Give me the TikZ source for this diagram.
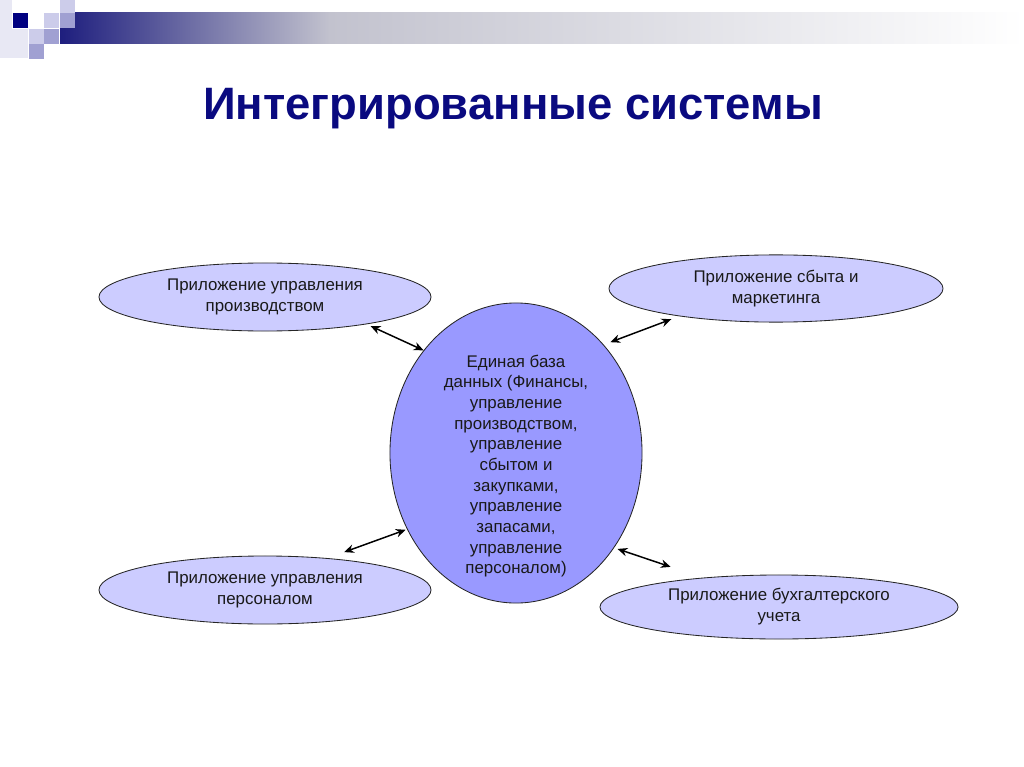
\documentclass[tikz,border=0pt]{standalone}
\usepackage{fontspec}
\setmainfont{Liberation Sans}
\usetikzlibrary{shapes.geometric,arrows.meta}

\definecolor{titlenavy}{HTML}{0A0A80}
\definecolor{barnavy}{HTML}{1E1E7E}
\definecolor{barmid}{HTML}{C2C2CE}
\definecolor{appfill}{HTML}{CCCCFF}
\definecolor{basefill}{HTML}{9999FF}
\definecolor{sqdark}{HTML}{000080}
\definecolor{sqlight}{HTML}{CCCCEA}
\definecolor{sqmid}{HTML}{A0A0D2}
\definecolor{sqfaint}{HTML}{E8E8F4}

\tikzset{
  app/.style={ellipse, draw=black!85, fill=appfill, line width=0.6pt,
    inner sep=0pt, align=center, text=black!90,
    font=\fontsize{12}{15}\selectfont},
  base/.style={ellipse, draw=black!85, fill=basefill, line width=0.6pt,
    minimum width=6.3cm, minimum height=7.5cm, inner sep=0pt},
  basetext/.style={align=center, text=black!90, font=\fontsize{12}{14.7}\selectfont},
  link/.style={{Stealth[length=7pt,width=6pt]}-{Stealth[length=7pt,width=6pt]}, line width=1.05pt},
}

\begin{document}
\begin{tikzpicture}[x=0.025cm, y=-0.025cm]
			%%%%% START %%%%%
			\useasboundingbox (0, 0) rectangle (1024, 767);
			
			% corner squares and bar
			\fill[sqfaint] (0, 0) rectangle (12, 58);
			\fill[sqfaint] (12, 29) rectangle (28, 58);
			\shade[left color=barnavy, right color=barmid] (60, 13) rectangle (330, 44);
			\shade[left color=barmid, right color=white] (329, 13) rectangle (1024, 44);
			\fill[sqdark] (13, 13) rectangle (28, 28);
			\fill[sqlight] (44, 13) rectangle (59, 28);
			\fill[sqlight] (60, 0) rectangle (75, 13);
			\fill[sqmid] (60, 13) rectangle (75, 28);
			\fill[sqlight] (29, 29) rectangle (44, 44);
			\fill[sqmid] (44, 29) rectangle (59, 44);
			\fill[sqmid] (29, 44) rectangle (44, 59);
			
			\node[anchor=base, text=titlenavy, font=\bfseries\fontsize{32.3}{40}\selectfont] (title) at (513, 120) {Интегрированные системы};
			
			% center
			\node[base] (base) at (516, 453) {};
			\node[basetext] (basetxt) at (516, 466) {Единая база\\данных (Финансы,\\управление\\производством,\\управление\\сбытом и\\закупками,\\управление\\запасами,\\управление\\персоналом)};
			
			% applications
			\node[app, minimum width=8.3cm, minimum height=1.7cm] (prod) at (265, 297) {Приложение управления\\производством};
			\node[app, minimum width=8.35cm, minimum height=1.68cm] (sales) at (776, 288.5) {Приложение сбыта и\\маркетинга};
			\node[app, minimum width=8.3cm, minimum height=1.7cm] (staff) at (265, 590) {Приложение управления\\персоналом};
			\node[app, minimum width=8.95cm, minimum height=1.6cm] (acct) at (779, 607) {Приложение бухгалтерского\\учета};
			
			\draw[link, shorten <=3pt] (prod.-15) -- (base.132);
			\draw[link, shorten <=5pt, shorten >=6pt] (base.51) -- (sales.196);
			\draw[link, shorten <=12.5pt, shorten >=1pt] (staff.27) -- (base.215);
			\draw[link, shorten <=2.5pt, shorten >=24pt] (base.-44) -- (acct.159);
			
			%%%%% END %%%%%
		\end{tikzpicture}
\end{document}
